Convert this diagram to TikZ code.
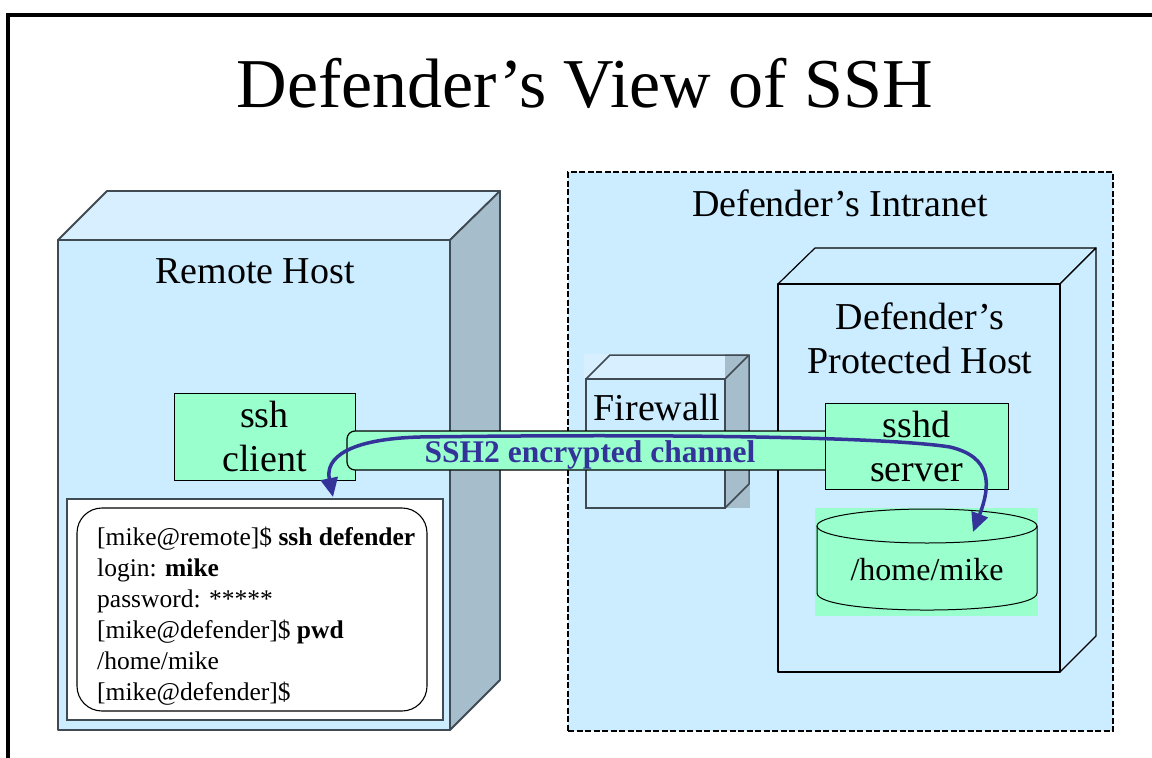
\documentclass[tikz,border=0pt]{standalone}
\usepackage{fontspec}
\setmainfont{Liberation Serif}
\usetikzlibrary{arrows.meta}
\tikzset{>={Triangle[length=19pt,width=17pt]}}

\definecolor{frontblue}{HTML}{CCECFF}
\definecolor{topblue}{HTML}{D7EFFE}
\definecolor{sidegray}{HTML}{A6BDCC}
\definecolor{mint}{HTML}{99FFCC}
\definecolor{chanblue}{HTML}{333399}
\definecolor{rimgray}{HTML}{404A52}

\tikzset{
  hostface/.style={draw=rimgray,line width=1.8pt,line join=round,outer sep=0pt},
  protface/.style={draw=black,line width=1.2pt,line join=round,fill=frontblue,outer sep=0pt},
  boxtext/.style={font=\fontsize{38}{44}\selectfont,align=center,inner sep=0pt},
  mintbox/.style={draw=black,line width=1pt,fill=mint,outer sep=0pt,
    font=\fontsize{38}{44}\selectfont,align=center,inner sep=0pt},
  termtext/.style={font=\fontsize{25.5}{31}\selectfont,align=left,inner sep=0pt},
  tube/.style={draw=black,line width=1.2pt,fill=mint},
  chanlabel/.style={font=\fontsize{31.5}{36}\selectfont\bfseries,text=chanblue,inner sep=0pt},
  chanarrow/.style={draw=chanblue,line width=3.5pt}
}

\begin{document}
\begin{tikzpicture}[x=1pt,y=-1pt]
\clip (0,0) rectangle (1152,758);
\fill[white] (0,0) rectangle (1152,758);

% slide frame and title
\draw[line width=3.5pt] (8,770) -- (8,15) -- (1170,15);
\node[font=\fontsize{70}{84}\selectfont,anchor=base] (title) at (585,107) {Defender’s View of SSH};

% remote host
\coordinate (rnw) at (58,240);
\filldraw[hostface,fill=topblue] (rnw) -- ++(49,-49) -- ++(393,0) -- ++(-50,49) -- cycle;
\filldraw[hostface,fill=sidegray] (450,240) -- ++(50,-49) -- ++(0,489) -- ++(-50,50) -- cycle;
\node[hostface,fill=frontblue,minimum width=392,minimum height=490] (remote) at (254,485) {};
\node[boxtext] (remotelbl) at (255,271) {Remote Host};
\node[mintbox,minimum width=181,minimum height=87] (client) at (264.5,436.5) {ssh\\client};

% terminal session
\node[draw=rimgray,line width=1.5pt,fill=white,minimum width=376,minimum height=221] (term) at (255,609.5) {};
\node[draw=black,line width=1.1pt,rounded corners=25pt,minimum width=350,minimum height=203] (screen) at (252,609.5) {};
\node[termtext,anchor=north west] (session) at (97,527)
  {{[}mike@remote]\$ \textbf{ssh defender}\\
   login: \textbf{mike}\\
   password: *****\\
   {[}mike@defender]\$ \textbf{pwd}\\
   /home/mike\\
   {[}mike@defender]\$};

% defender's intranet
\node[draw=black,line width=2.5pt,dash pattern=on 6pt off 2.5pt,fill=frontblue,
  minimum width=545,minimum height=559] (intranet) at (840.5,451.5) {};
\node[boxtext] (intranetlbl) at (840,203) {Defender’s Intranet};

% firewall
\fill[topblue] (584,354) rectangle (725,379);
\fill[sidegray] (725,354) rectangle (750,508);
\node[draw=rimgray,line width=1.5pt,fill=frontblue,outer sep=0pt,minimum width=139,minimum height=129] (fw) at (655.5,443.5) {};
\draw[draw=rimgray,line width=1.5pt,line join=round] (fw.north west) -- ++(24,-24) -- ++(139,0) -- (fw.north east);
\draw[draw=rimgray,line width=1.5pt,line join=round] (fw.north east) ++(24,-24) -- ++(0,129) -- (fw.south east);
\node[boxtext] (fwlbl) at (657,407) {Firewall};

% protected host
\filldraw[protface] (778,284) -- ++(37,-36) -- ++(281,0) -- ++(-36,36) -- cycle;
\filldraw[protface] (1060,284) -- ++(36,-36) -- ++(0,388) -- ++(-36,36) -- cycle;
\node[protface,minimum width=282,minimum height=388] (prot) at (919,478) {};
\node[boxtext] (protlbl) at (920,338) {Defender’s\\Protected Host};

% encrypted channel
\filldraw[tube,rounded corners=8pt] (826,431) -- (347,431) -- (347,470) -- (826,470);
\node[chanlabel,anchor=base] (chan) at (590,462) {SSH2 encrypted channel};
\node[mintbox,minimum width=183,minimum height=86] (sshd) at (916.5,446) {sshd\\server};

% home directory
\fill[mint] (815,508) rectangle (1038,616);
\draw[line width=1pt] (817,526) -- (817,593) .. controls (817,615.7) and (1037,615.7) .. (1037,593) -- (1037,526);
\draw[line width=1pt] (927,526) ellipse [x radius=110, y radius=17];
\node[boxtext,font=\fontsize{32}{38}\selectfont] (home) at (927,570) {/home/mike};

% session path
\coordinate (tipL) at (333,497);
\coordinate (tipR) at (973,532);
\draw[<->,chanarrow] (tipL) .. controls (325,458) and (348,439) .. (420,437)
  .. controls (640,434) and (880,436) .. (950,447)
  .. controls (992,457) and (991,485) .. (tipR);
\end{tikzpicture}
\end{document}
